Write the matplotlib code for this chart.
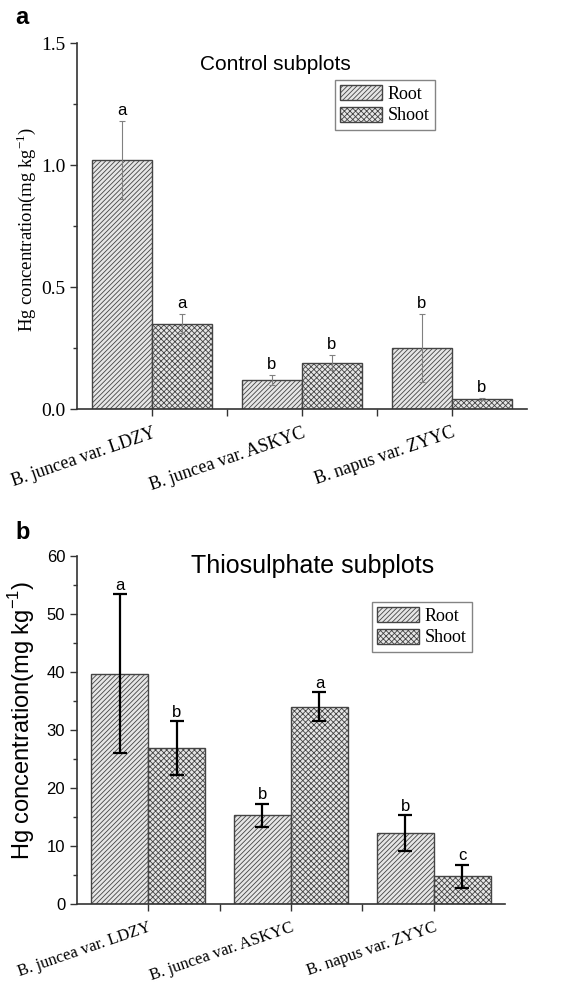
from matplotlib import pyplot as plt
from matplotlib import transforms
import numpy as np

# Data
cultivars = ['B. juncea var. LDZY', 'B. juncea var. ASKYC', 'B. napus var. ZYYC']

ctrl_root = [1.02, 0.12, 0.25]
ctrl_root_err = [0.16, 0.02, 0.14]
ctrl_shoot = [0.35, 0.19, 0.04]
ctrl_shoot_err = [0.04, 0.03, 0.004]
ctrl_root_sig = ['a', 'b', 'b']
ctrl_shoot_sig = ['a', 'b', 'b']

thio_root = [39.7, 15.3, 12.2]
thio_root_err = [13.7, 2.0, 3.1]
thio_shoot = [26.9, 34.0, 4.8]
thio_shoot_err = [4.6, 2.5, 2.0]
thio_root_sig = ['a', 'b', 'b']
thio_shoot_sig = ['b', 'a', 'c']

plt.rcParams['hatch.linewidth'] = 0.6
plt.rcParams['hatch.color'] = '#444444'

fig = plt.figure(figsize=(5.79, 9.84), dpi=100)
ax1 = fig.add_axes([0.133, 0.5843, 0.777, 0.372])
ax2 = fig.add_axes([0.133, 0.0813, 0.739, 0.3537])

x = np.arange(len(cultivars))
w = 0.4
face = '#e6e6e6'
edge = '#444444'


def draw(ax, root, root_err, shoot, shoot_err, root_sig, shoot_sig,
         ecolor, elw, capsize, off, shift, xfs):
    ax.bar(x - w / 2, root, w, color=face, edgecolor=edge, hatch='///////',
           linewidth=1.0, label='Root')
    ax.bar(x + w / 2, shoot, w, color=face, edgecolor=edge, hatch='xxxxxx',
           linewidth=1.0, label='Shoot')
    ax.errorbar(x - w / 2, root, yerr=root_err, fmt='none', ecolor=ecolor,
                elinewidth=elw, capsize=capsize, capthick=elw)
    ax.errorbar(x + w / 2, shoot, yerr=shoot_err, fmt='none', ecolor=ecolor,
                elinewidth=elw, capsize=capsize, capthick=elw)
    for i in range(len(x)):
        ax.text(x[i] - w / 2, root[i] + root_err[i] + off, root_sig[i],
                ha='center', va='bottom', fontsize=12, family='Liberation Sans')
        ax.text(x[i] + w / 2, shoot[i] + shoot_err[i] + off, shoot_sig[i],
                ha='center', va='bottom', fontsize=12, family='Liberation Sans')
    ax.set_xlim(-0.5, 2.5)
    ax.set_xticks(x)
    ax.set_xticks([0.5, 1.5], minor=True)
    ax.set_xticklabels(cultivars, rotation=19, ha='right',
                       rotation_mode='anchor', family='Liberation Serif',
                       fontsize=xfs)
    # nudge the slanted labels a little to the right, as in the original
    off_t = transforms.ScaledTranslation(shift / 72, 0, fig.dpi_scale_trans)
    for lab in ax.get_xticklabels():
        lab.set_transform(lab.get_transform() + off_t)
    ax.spines['top'].set_visible(False)
    ax.spines['right'].set_visible(False)
    for s in ['left', 'bottom']:
        ax.spines[s].set_color('#333333')
        ax.spines[s].set_linewidth(1.2)
    ax.tick_params(axis='x', which='both', length=5, width=1.0,
                   color='#333333', pad=6)
    ax.tick_params(axis='y', which='major', length=5, width=1.0, color='#333333')
    ax.tick_params(axis='y', which='minor', length=3, width=1.0, color='#333333')


# Panel a: control subplots
draw(ax1, ctrl_root, ctrl_root_err, ctrl_shoot, ctrl_shoot_err,
     ctrl_root_sig, ctrl_shoot_sig, '#808080', 0.8, 2.5, 0.012, 4, 13)
ax1.set_ylim(0, 1.5)
ax1.set_yticks([0.0, 0.5, 1.0, 1.5])
ax1.set_yticks([0.25, 0.75, 1.25], minor=True)
ax1.set_yticklabels(['0.0', '0.5', '1.0', '1.5'], family='Liberation Serif',
                    fontsize=14)
ax1.set_ylabel(r'Hg concentration(mg kg$^{\mathregular{-1}}$)',
               family='Liberation Serif', fontsize=13.5)
ax1.yaxis.set_label_coords(-0.087, 0.492)
ax1.text(0.44, 0.94, 'Control subplots', transform=ax1.transAxes,
         ha='center', va='center', fontsize=15, family='Liberation Sans')
ax1.legend(loc='upper left', bbox_to_anchor=(0.5786, 0.9187),
           bbox_transform=fig.transFigure, fancybox=False,
           edgecolor='#666666', prop={'family': 'Liberation Serif', 'size': 13},
           handlelength=2.3, handleheight=0.9, handletextpad=0.3,
           borderpad=0.3, labelspacing=0.2, borderaxespad=0)

# Panel b: thiosulphate subplots
draw(ax2, thio_root, thio_root_err, thio_shoot, thio_shoot_err,
     thio_root_sig, thio_shoot_sig, 'black', 1.6, 5, 0.3, 2, 12)
ax2.set_ylim(0, 60)
ax2.set_yticks(np.arange(0, 61, 10))
ax2.set_yticks(np.arange(5, 60, 10), minor=True)
ax2.set_yticklabels([str(v) for v in range(0, 61, 10)],
                    family='Liberation Sans', fontsize=12)
ax2.set_ylabel(r'Hg concentration(mg kg$^{\mathregular{-1}}$)',
               family='Liberation Sans', fontsize=17)
ax2.yaxis.set_label_coords(-0.093, 0.526)
ax2.text(0.55, 0.97, 'Thiosulphate subplots', transform=ax2.transAxes,
         ha='center', va='center', fontsize=18, family='Liberation Sans')
ax2.legend(loc='upper left', bbox_to_anchor=(0.6425, 0.3882),
           bbox_transform=fig.transFigure, fancybox=False,
           edgecolor='#666666', prop={'family': 'Liberation Serif', 'size': 13},
           handlelength=2.3, handleheight=0.9, handletextpad=0.3,
           borderpad=0.3, labelspacing=0.2, borderaxespad=0)

fig.text(0.026, 0.982, 'a', fontsize=17, fontweight='bold', va='center',
         family='Liberation Sans')
fig.text(0.026, 0.459, 'b', fontsize=17, fontweight='bold', va='center',
         family='Liberation Sans')

plt.savefig('out.png', dpi=100)
